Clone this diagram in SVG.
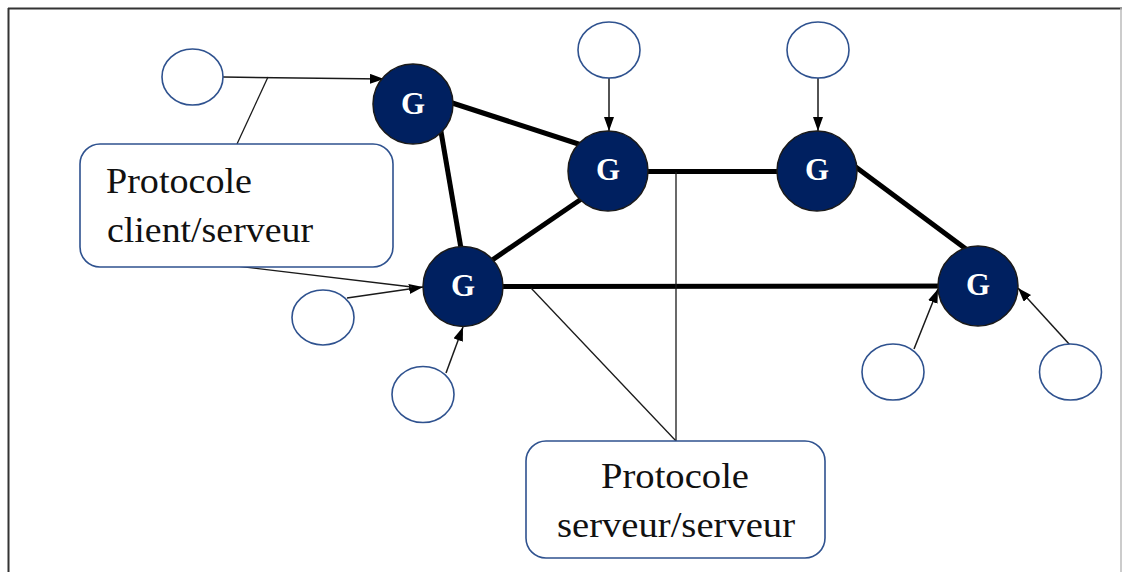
<svg xmlns="http://www.w3.org/2000/svg" width="1122" height="572" viewBox="0 0 1122 572">
  <style>
    .client { fill: #ffffff; stroke: #2f528f; stroke-width: 1.6; }
    .gw { fill: #002060; stroke: #1a1a1a; stroke-width: 1.5; }
    .gw-label { font-family: "Liberation Serif", "Times New Roman", serif; font-weight: bold; font-size: 31px; fill: #ffffff; text-anchor: middle; }
    .link { stroke: #000000; stroke-width: 5; stroke-linecap: butt; fill: none; }
    .arrow { stroke: #1a1a1a; stroke-width: 1.5; fill: none; marker-end: url(#head); }
    .lead { stroke: #1a1a1a; stroke-width: 1.3; fill: none; }
    .callout { fill: #ffffff; stroke: #2f528f; stroke-width: 1.6; }
    .callout-text { font-family: "Liberation Serif", "Times New Roman", serif; font-size: 35px; fill: #111111; }
  </style>
  <defs>
    <marker id="head" viewBox="0 0 14 10" refX="14" refY="5" markerWidth="14" markerHeight="10" markerUnits="userSpaceOnUse" orient="auto">
      <path d="M0,0 L14,5 L0,10 Z" fill="#000000"/>
    </marker>
  </defs>

  <rect width="1122" height="572" fill="#ffffff"/>

  <!-- outer frame -->
  <g id="frame">
    <line x1="8" y1="8.5" x2="1122" y2="8.5" stroke="#333333" stroke-width="2"/>
    <line x1="8.5" y1="8" x2="8.5" y2="572" stroke="#333333" stroke-width="2"/>
    <line x1="1121" y1="8" x2="1121" y2="572" stroke="#bbbbbb" stroke-width="1.5"/>
  </g>

  <!-- connectors -->
  <g id="connectors">
    <!-- server to server links -->
    <line class="link" x1="440" y1="99" x2="600" y2="151"/>
    <line class="link" x1="439" y1="120" x2="463" y2="260"/>
    <line class="link" x1="600" y1="186.3" x2="470" y2="275.2"/>
    <line class="link" x1="608" y1="171.5" x2="817" y2="171.5"/>
    <line class="link" x1="845" y1="159" x2="970" y2="252"/>
    <line class="link" x1="463" y1="286.5" x2="978" y2="286" stroke-width="5.5"/>

    <!-- client to server arrows -->
    <line class="arrow" x1="223" y1="77" x2="384" y2="79"/>
    <line class="arrow" x1="609" y1="78" x2="609" y2="131"/>
    <line class="arrow" x1="818" y1="78" x2="818" y2="131"/>
    <line class="arrow" x1="347" y1="298" x2="423" y2="287"/>
    <line class="arrow" x1="446" y1="373" x2="463" y2="327"/>
    <line class="arrow" x1="914" y1="349" x2="938" y2="289"/>
    <line class="arrow" x1="1070" y1="345" x2="1018" y2="288"/>

    <!-- callout leaders -->
    <line class="lead" x1="237" y1="144" x2="268" y2="77"/>
    <line class="lead" x1="237" y1="266" x2="412" y2="287"/>
    <line class="lead" x1="676" y1="441" x2="676" y2="172"/>
    <line class="lead" x1="676" y1="441" x2="531" y2="288"/>
  </g>

  <!-- clients -->
  <g id="client-1"><ellipse class="client" cx="192.5" cy="77" rx="30.5" ry="28"/></g>
  <g id="client-2"><ellipse class="client" cx="609" cy="50" rx="31" ry="28"/></g>
  <g id="client-3"><ellipse class="client" cx="818" cy="50" rx="31" ry="28"/></g>
  <g id="client-4"><ellipse class="client" cx="323" cy="317.5" rx="31" ry="27.5"/></g>
  <g id="client-5"><ellipse class="client" cx="423" cy="394.5" rx="31" ry="28"/></g>
  <g id="client-6"><ellipse class="client" cx="893" cy="372" rx="31" ry="28"/></g>
  <g id="client-7"><ellipse class="client" cx="1070.5" cy="372" rx="31" ry="28"/></g>

  <!-- servers -->
  <g id="server-1"><circle class="gw" cx="413" cy="104" r="40"/><text class="gw-label" x="413" y="114">G</text></g>
  <g id="server-2"><circle class="gw" cx="608" cy="171" r="40"/><text class="gw-label" x="608" y="180">G</text></g>
  <g id="server-3"><circle class="gw" cx="817" cy="171" r="40"/><text class="gw-label" x="817" y="180">G</text></g>
  <g id="server-4"><circle class="gw" cx="463" cy="286.5" r="40"/><text class="gw-label" x="463" y="296">G</text></g>
  <g id="server-5"><circle class="gw" cx="978" cy="286" r="40"/><text class="gw-label" x="978" y="295">G</text></g>

  <!-- callouts -->
  <g id="callout-client">
    <rect class="callout" x="80" y="144" width="313" height="123" rx="20" ry="20"/>
    <text class="callout-text" x="106" y="193" textLength="146" lengthAdjust="spacingAndGlyphs">Protocole</text>
    <text class="callout-text" x="107" y="242" textLength="206" lengthAdjust="spacingAndGlyphs">client/serveur</text>
  </g>
  <g id="callout-server">
    <rect class="callout" x="526" y="441" width="299" height="117" rx="20" ry="20"/>
    <text class="callout-text" x="601" y="488" textLength="148" lengthAdjust="spacingAndGlyphs">Protocole</text>
    <text class="callout-text" x="557" y="537" textLength="238" lengthAdjust="spacingAndGlyphs">serveur/serveur</text>
  </g>
</svg>
